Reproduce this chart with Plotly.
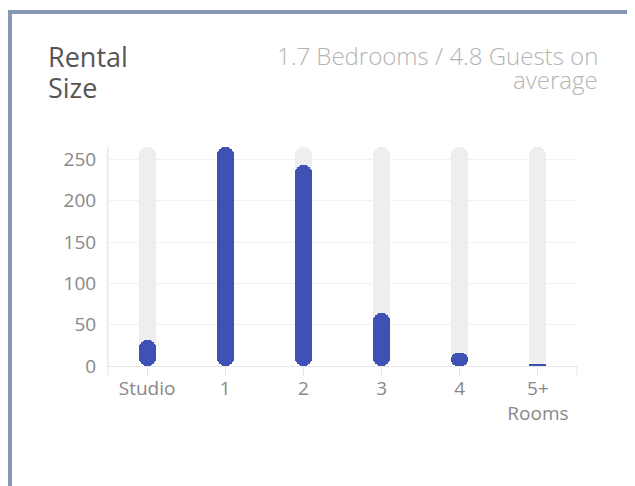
import plotly.graph_objects as go

categories = ["Studio", "1", "2", "3", "4", "5+<br>Rooms"]
counts = [32, 265, 243, 64, 16, 3]
y_ticks = [0, 50, 100, 150, 200, 250]
title_lines = ["Rental", "Size"]
subtitle_lines = ["1.7 Bedrooms / 4.8 Guests on", "average"]

BLUE = "#3f51b5"
GRAY_BAR = "#eeeeee"
GRID = "#f1f1f1"
AXIS = "#e6e6e6"
FONT = "Open Sans"

ymax = max(counts)
bar_w = 0.217
radius = 8.5

# page offset (browser body margin) -> figure pixel coordinates
OX, OY = 8, 8
FW, FH = 635 - OX, 486 - OY

fig = go.Figure()

# background tracks (base set -> both ends rounded)
fig.add_trace(go.Bar(
    x=categories, y=[ymax] * len(categories), base=[0] * len(categories),
    width=bar_w, marker=dict(color=GRAY_BAR, cornerradius=radius, line=dict(width=0)),
    hoverinfo="skip", showlegend=False))

fig.add_trace(go.Bar(
    x=categories, y=counts, base=[0] * len(counts),
    width=bar_w, marker=dict(color=BLUE, cornerradius=radius, line=dict(width=0)),
    showlegend=False))

# plot area in page pixels
L, R, T, B = 108, 577, 147, 366
W, H = R - L, B - T
def px(xp):
    return (xp - L) / W
def py(yp):
    return (B - yp) / H

shapes = [
    dict(type="rect", xref="paper", yref="paper", x0=px(8), x1=px(12), y0=py(520), y1=py(10),
         fillcolor="#8597b2", line=dict(width=0), layer="below"),
    dict(type="rect", xref="paper", yref="paper", x0=px(8), x1=px(640), y0=py(14), y1=py(10),
         fillcolor="#8597b2", line=dict(width=0), layer="below"),
    dict(type="line", xref="paper", yref="paper", x0=px(634.5), x1=px(634.5), y0=py(14), y1=py(520),
         line=dict(color="#eceff4", width=1), layer="below"),
    dict(type="line", xref="paper", yref="paper", x0=0, x1=0, y0=py(375), y1=1,
         line=dict(color=AXIS, width=1), layer="below"),
    dict(type="line", xref="paper", yref="paper", x0=1, x1=1, y0=py(375), y1=0,
         line=dict(color=AXIS, width=1), layer="below"),
]

annotations = []
for line, yc in zip(title_lines, [57, 87]):
    annotations.append(dict(text=line, xref="paper", yref="paper", x=px(46), y=py(yc),
                            xanchor="left", yanchor="middle", showarrow=False,
                            font=dict(family=FONT, size=27, color="#555555")))
for line, yc in zip(subtitle_lines, [55, 80]):
    annotations.append(dict(text=line, xref="paper", yref="paper", x=px(600), y=py(yc),
                            xanchor="right", yanchor="middle", showarrow=False,
                            font=dict(family=FONT, size=24, color="#b4b4b4", weight=300)))

fig.update_layout(
    width=FW, height=FH,
    margin=dict(l=L - OX, r=FW - (R - OX), t=T - OY, b=FH - (B - OY), pad=0),
    paper_bgcolor="white", plot_bgcolor="white",
    barmode="overlay", bargap=0,
    font=dict(family=FONT, color="#888888", size=19),
    shapes=shapes, annotations=annotations,
    xaxis=dict(type="category", categoryorder="array", categoryarray=categories,
               showgrid=False, showline=True, linecolor=AXIS, linewidth=1,
               ticks="outside", ticklen=9, tickcolor=AXIS, tickwidth=1, ticklabelstandoff=-4,
               tickfont=dict(family=FONT, size=19, color="#888888"), fixedrange=True),
    yaxis=dict(range=[0, ymax], tickvals=y_ticks, showgrid=True, gridcolor=GRID, gridwidth=1,
               zeroline=False, showline=True, linecolor=AXIS, linewidth=1,
               ticks="outside", ticklen=7, tickcolor="rgba(0,0,0,0)",
               tickfont=dict(family=FONT, size=19, color="#888888"), fixedrange=True),
)

fig.write_html("out.html")
